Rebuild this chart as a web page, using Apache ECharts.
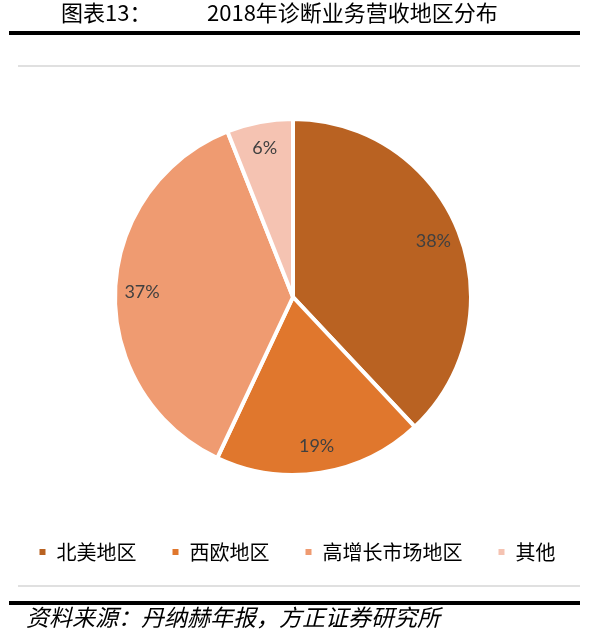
<!DOCTYPE html>
<html><head><meta charset="utf-8">
<script src="https://cdn.jsdelivr.net/npm/echarts@6/dist/echarts.min.js"></script>
<style>html,body{margin:0;padding:0;background:#fff}#c{width:593px;height:640px}</style>
</head><body><div id="c"></div>
<script>
const categories = ['北美地区','西欧地区','高增长市场地区','其他'];
const values = [38, 19, 37, 6];
const colors = ['#B96222','#E0772D','#EF9B71','#F5C3B2'];
const titleLabel = '图表13：';
const titleText = '2018年诊断业务营收地区分布';
const sourceText = '资料来源：丹纳赫年报，方正证券研究所';

const chart = echarts.init(document.getElementById('c'));
const data = categories.map((n,i)=>({name:n, value:values[i], itemStyle:{color:colors[i]}}));
const cjk = '"Noto Sans CJK SC", sans-serif';
chart.setOption({
  animation:false,
  legend:{
    data:categories, top:537, left:'center',
    icon:'rect', itemWidth:8, itemHeight:8, itemGap:34,
    textStyle:{fontFamily:cjk, fontSize:20, color:'#000', padding:[0,0,0,5]}
  },
  graphic:[
    {type:'text', left:61, top:2, style:{text:titleLabel, font:'normal 22px "Noto Sans CJK SC"', fill:'#000'}},
    {type:'text', left:207, top:2, style:{text:titleText, font:'normal 22px "Noto Sans CJK SC"', fill:'#000'}},
    {type:'rect', shape:{x:9,y:31,width:571,height:4}, style:{fill:'#000'}},
    {type:'rect', shape:{x:18,y:65,width:562,height:2}, style:{fill:'#e0e0e0'}},
    {type:'rect', shape:{x:18,y:585,width:562,height:2}, style:{fill:'#e0e0e0'}},
    {type:'rect', shape:{x:9,y:601,width:571,height:4}, style:{fill:'#000'}},
    {type:'text', left:26, top:606, style:{text:sourceText, font:'italic 23px "Noto Sans CJK SC"', fill:'#000'}}
  ],
  series:[
    {type:'pie', center:[293,297], radius:[0,178], startAngle:90, clockwise:true,
     data:data, label:{show:false}, labelLine:{show:false},
     itemStyle:{borderColor:'#fff', borderWidth:4}},
    {type:'pie', center:[293,297], radius:[118,178], startAngle:90, clockwise:true, silent:true,
     data:data.map(d=>({name:d.name, value:d.value, itemStyle:{color:'rgba(0,0,0,0)'}})),
     label:{show:true, position:'inside', formatter:'{c}%', fontFamily:'Lato, "Open Sans", sans-serif', fontSize:18, color:'#404040'},
     labelLine:{show:false}, itemStyle:{borderWidth:0}}
  ]
});
</script></body></html>
